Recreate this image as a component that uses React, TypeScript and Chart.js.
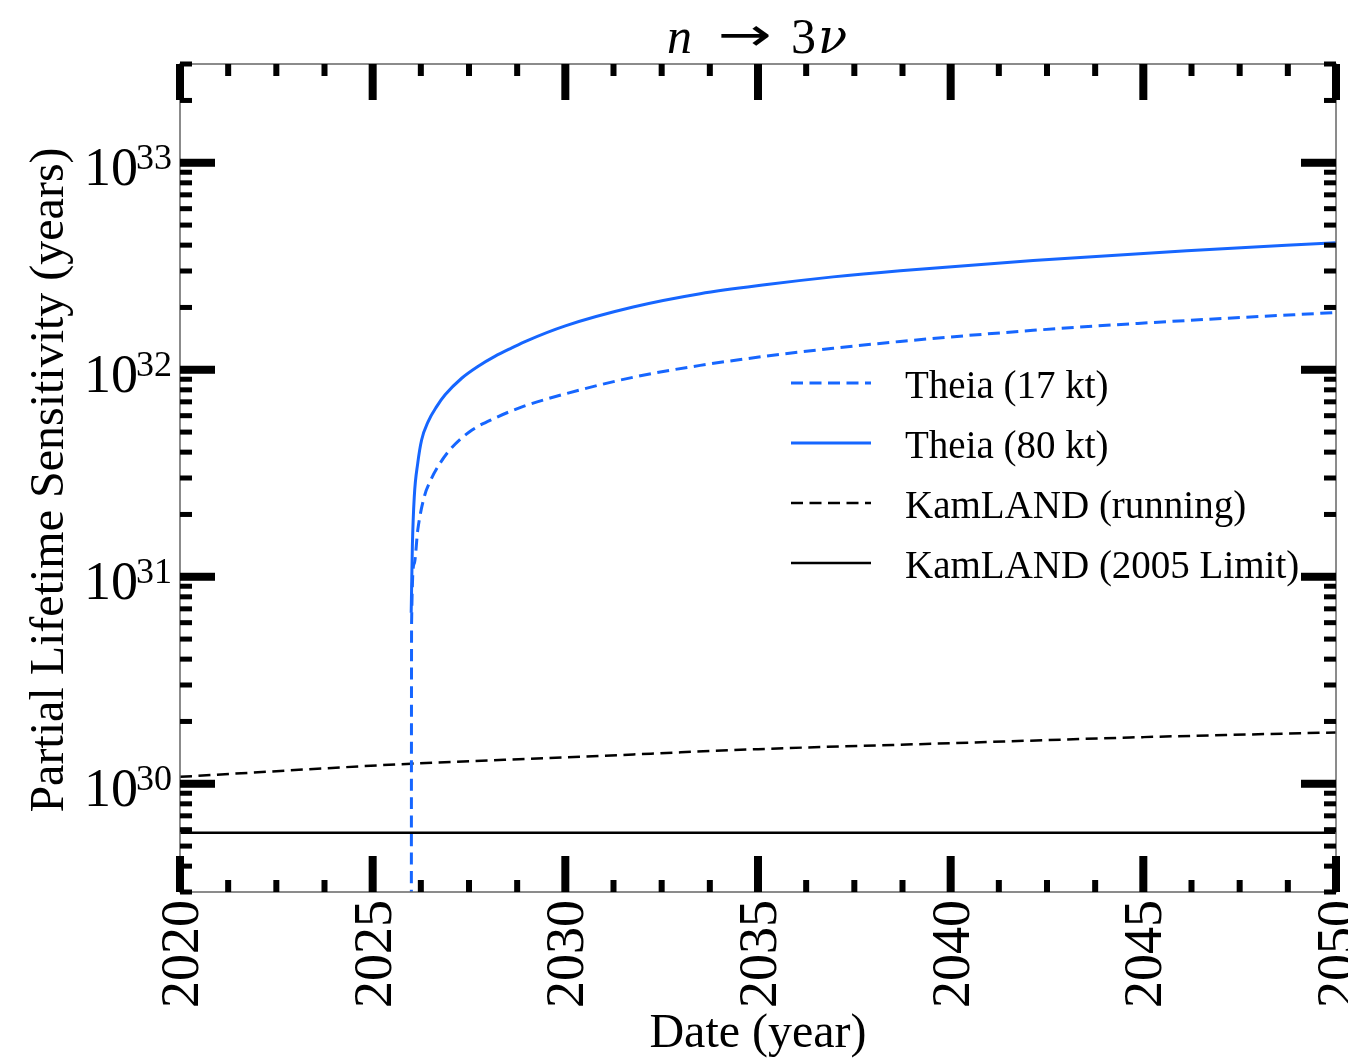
import React, { useEffect, useRef } from 'react';
import { Chart, registerables } from 'chart.js';

Chart.register(...registerables);

// ---- data ----
const theia80Years = [2026.0, 2026.03, 2026.08, 2026.17, 2026.27, 2026.44, 2026.66, 2026.88, 2027.31, 2027.74, 2028.17, 2028.61, 2029.0, 2030.0, 2031.76, 2033.5, 2035.23, 2036.95, 2038.69, 2042.14, 2046.13, 2050];
const theia80Values = [6.7e30, 1.4e31, 2.44e31, 3.54e31, 4.58e31, 5.62e31, 6.64e31, 7.57e31, 9.1e31, 1.04e32, 1.16e32, 1.275e32, 1.38e32, 1.63e32, 2.01e32, 2.33e32, 2.58e32, 2.81e32, 3.01e32, 3.37e32, 3.76e32, 4.11e32];

const theia17Years = [2026.0, 2026.01, 2026.08, 2026.17, 2026.34, 2026.51, 2026.75, 2027.05, 2027.57, 2028.17, 2028.91, 2030.0, 2031.76, 2033.5, 2035.23, 2036.95, 2038.69, 2042.14, 2046.13, 2050];
const theia17Values = [1e28, 5.96e30, 1.16e31, 1.68e31, 2.44e31, 2.94e31, 3.54e31, 4.2e31, 5.1e31, 5.84e31, 6.65e31, 7.65e31, 9.2e31, 1.05e32, 1.165e32, 1.27e32, 1.37e32, 1.55e32, 1.73e32, 1.89e32];

const kamRunningYears = [2020, 2026, 2030, 2035, 2040, 2045, 2050];
const kamRunningValues = [1.08e30, 1.25e30, 1.34e30, 1.47e30, 1.57e30, 1.68e30, 1.77e30];

const kamLimitYears = [2020, 2050];
const kamLimitValues = [5.8e29, 5.8e29];

const xMajorTicks = [2020, 2025, 2030, 2035, 2040, 2045, 2050];
const xMinorStep = 1.25;
const yDecadeExponents = [30, 31, 32, 33];

const xAxisTitle = 'Date (year)';
const yAxisTitle = 'Partial Lifetime Sensitivity (years)';

const legendLabels = ['Theia (17 kt)', 'Theia (80 kt)', 'KamLAND (running)', 'KamLAND (2005 Limit)'];

const BLUE = 'rgb(22,102,255)';
const FONT = '"Liberation Serif", "DejaVu Serif", serif';

const toPoints = (xs: number[], ys: number[]) => xs.map((x, i) => ({ x, y: ys[i] }));

const legendStyles = [
  { color: BLUE, dash: [12, 6.5], width: 3 },
  { color: BLUE, dash: [], width: 3 },
  { color: '#000', dash: [12, 6.5], width: 2.5 },
  { color: '#000', dash: [], width: 2.5 },
];

const decorPlugin = {
  id: 'decor',
  afterDraw(chart: any) {
    const ctx: CanvasRenderingContext2D = chart.ctx;
    const xs = chart.scales.x;
    const ys = chart.scales.y;
    const { left, right, top, bottom } = chart.chartArea;
    ctx.save();

    // frame
    ctx.strokeStyle = '#666';
    ctx.lineWidth = 1.5;
    ctx.strokeRect(left, top, right - left, bottom - top);

    // x ticks
    ctx.fillStyle = '#000';
    for (const v of xMajorTicks) {
      const px = xs.getPixelForValue(v);
      ctx.fillRect(px - 4, bottom - 36, 8, 36);
      ctx.fillRect(px - 4, top, 8, 36);
    }
    for (let v = xs.min; v <= xs.max + 1e-6; v += xMinorStep) {
      if (xMajorTicks.some((m) => Math.abs(m - v) < 1e-6)) continue;
      const px = xs.getPixelForValue(v);
      ctx.fillRect(px - 3, bottom - 12, 6, 12);
      ctx.fillRect(px - 3, top, 6, 12);
    }

    // y ticks
    for (let d = 29; d <= 33; d++) {
      for (let m = 1; m <= 9; m++) {
        const v = m * Math.pow(10, d);
        if (v < ys.min * 0.999 || v > ys.max * 1.001) continue;
        const py = ys.getPixelForValue(v);
        if (m === 1) {
          ctx.fillRect(left, py - 4, 35, 8);
          ctx.fillRect(right - 35, py - 4, 35, 8);
        } else {
          ctx.fillRect(left, py - 2.5, 12, 5);
          ctx.fillRect(right - 12, py - 2.5, 12, 5);
        }
      }
    }

    ctx.fillStyle = '#000';
    // y tick labels 10^e
    for (const e of yDecadeExponents) {
      const py = ys.getPixelForValue(Math.pow(10, e));
      ctx.font = `36px ${FONT}`;
      const sup = String(e);
      const supW = ctx.measureText(sup).width;
      ctx.font = `54px ${FONT}`;
      const baseW = ctx.measureText('10').width;
      const rightEdge = 172;
      ctx.textAlign = 'left';
      ctx.textBaseline = 'alphabetic';
      ctx.fillText('10', rightEdge - supW - baseW + 2, py + 22);
      ctx.font = `36px ${FONT}`;
      ctx.fillText(sup, rightEdge - supW, py + 6);
    }

    // x tick labels (rotated)
    ctx.font = `54px ${FONT}`;
    for (const v of xMajorTicks) {
      const px = xs.getPixelForValue(v);
      ctx.save();
      ctx.translate(px + 18, 900);
      ctx.rotate(-Math.PI / 2);
      ctx.textAlign = 'right';
      ctx.textBaseline = 'alphabetic';
      ctx.fillText(String(v), 0, 0);
      ctx.restore();
    }

    // axis titles
    ctx.font = `48px ${FONT}`;
    ctx.textAlign = 'center';
    ctx.textBaseline = 'alphabetic';
    ctx.fillText(xAxisTitle, (left + right) / 2, 1047);
    ctx.save();
    ctx.translate(63, (top + bottom) / 2 + 2);
    ctx.rotate(-Math.PI / 2);
    ctx.fillText(yAxisTitle, 0, 0);
    ctx.restore();

    // title: n → 3ν
    const cx = (left + right) / 2;
    const baseY = 53;
    ctx.textAlign = 'left';
    ctx.font = `italic 50px ${FONT}`;
    ctx.fillText('n', cx - 91, baseY);
    ctx.save();
    ctx.font = `46px "DejaVu Sans", sans-serif`;
    const aw = ctx.measureText('\u2192').width;
    ctx.translate(cx - 40, baseY - 3);
    ctx.scale(54 / aw, 1);
    ctx.fillText('\u2192', 0, 0);
    ctx.restore();
    ctx.font = `50px ${FONT}`;
    ctx.fillText('3', cx + 33, baseY);
    ctx.font = `italic 48px "DejaVu Serif", serif`;
    ctx.fillText('\u03bd', cx + 60, baseY);

    // legend
    ctx.font = `39px ${FONT}`;
    legendLabels.forEach((label, i) => {
      const y0 = 383 + 60 * i;
      const st = legendStyles[i];
      ctx.save();
      ctx.strokeStyle = st.color;
      ctx.lineWidth = st.width;
      ctx.setLineDash(st.dash);
      ctx.beginPath();
      ctx.moveTo(791, y0);
      ctx.lineTo(871, y0);
      ctx.stroke();
      ctx.restore();
      ctx.fillStyle = '#000';
      ctx.textAlign = 'left';
      ctx.fillText(label, 905, y0 + 15);
    });

    ctx.restore();
  },
};

export default function App() {
  const canvasRef = useRef<HTMLCanvasElement | null>(null);

  useEffect(() => {
    const canvas = canvasRef.current;
    if (!canvas) return;
    const chart = new Chart(canvas, {
      type: 'scatter',
      data: {
        datasets: [
          {
            label: legendLabels[0],
            data: toPoints(theia17Years, theia17Values),
            showLine: true,
            borderColor: BLUE,
            borderWidth: 3,
            borderDash: [12, 6.5],
            pointRadius: 0,
            cubicInterpolationMode: 'monotone',
          },
          {
            label: legendLabels[1],
            data: toPoints(theia80Years, theia80Values),
            showLine: true,
            borderColor: BLUE,
            borderWidth: 3,
            pointRadius: 0,
            cubicInterpolationMode: 'monotone',
          },
          {
            label: legendLabels[2],
            data: toPoints(kamRunningYears, kamRunningValues),
            showLine: true,
            borderColor: '#000',
            borderWidth: 2.5,
            borderDash: [12, 6.5],
            pointRadius: 0,
            cubicInterpolationMode: 'monotone',
          },
          {
            label: legendLabels[3],
            data: toPoints(kamLimitYears, kamLimitValues),
            showLine: true,
            borderColor: '#000',
            borderWidth: 2.5,
            pointRadius: 0,
          },
        ],
      },
      options: {
        responsive: false,
        animation: false,
        layout: { padding: { top: 64, right: 12, left: 0, bottom: 0 } },
        plugins: {
          legend: { display: false },
          tooltip: { enabled: false },
          title: { display: false },
        },
        scales: {
          x: {
            type: 'linear',
            min: 2020,
            max: 2050,
            ticks: { display: false },
            grid: { display: false },
            border: { display: false },
            afterFit: (s: any) => {
              s.height = 166;
            },
          },
          y: {
            type: 'logarithmic',
            min: 3e29,
            max: 3e33,
            ticks: { display: false },
            grid: { display: false },
            border: { display: false },
            afterFit: (s: any) => {
              s.width = 180;
            },
          },
        },
      } as any,
      plugins: [decorPlugin],
    });
    return () => chart.destroy();
  }, []);

  return (
    <div style={{ position: 'fixed', left: 0, top: 0, width: 1348, height: 1058, background: '#fff' }}>
      <canvas ref={canvasRef} width={1348} height={1058} style={{ display: 'block' }} />
    </div>
  );
}
